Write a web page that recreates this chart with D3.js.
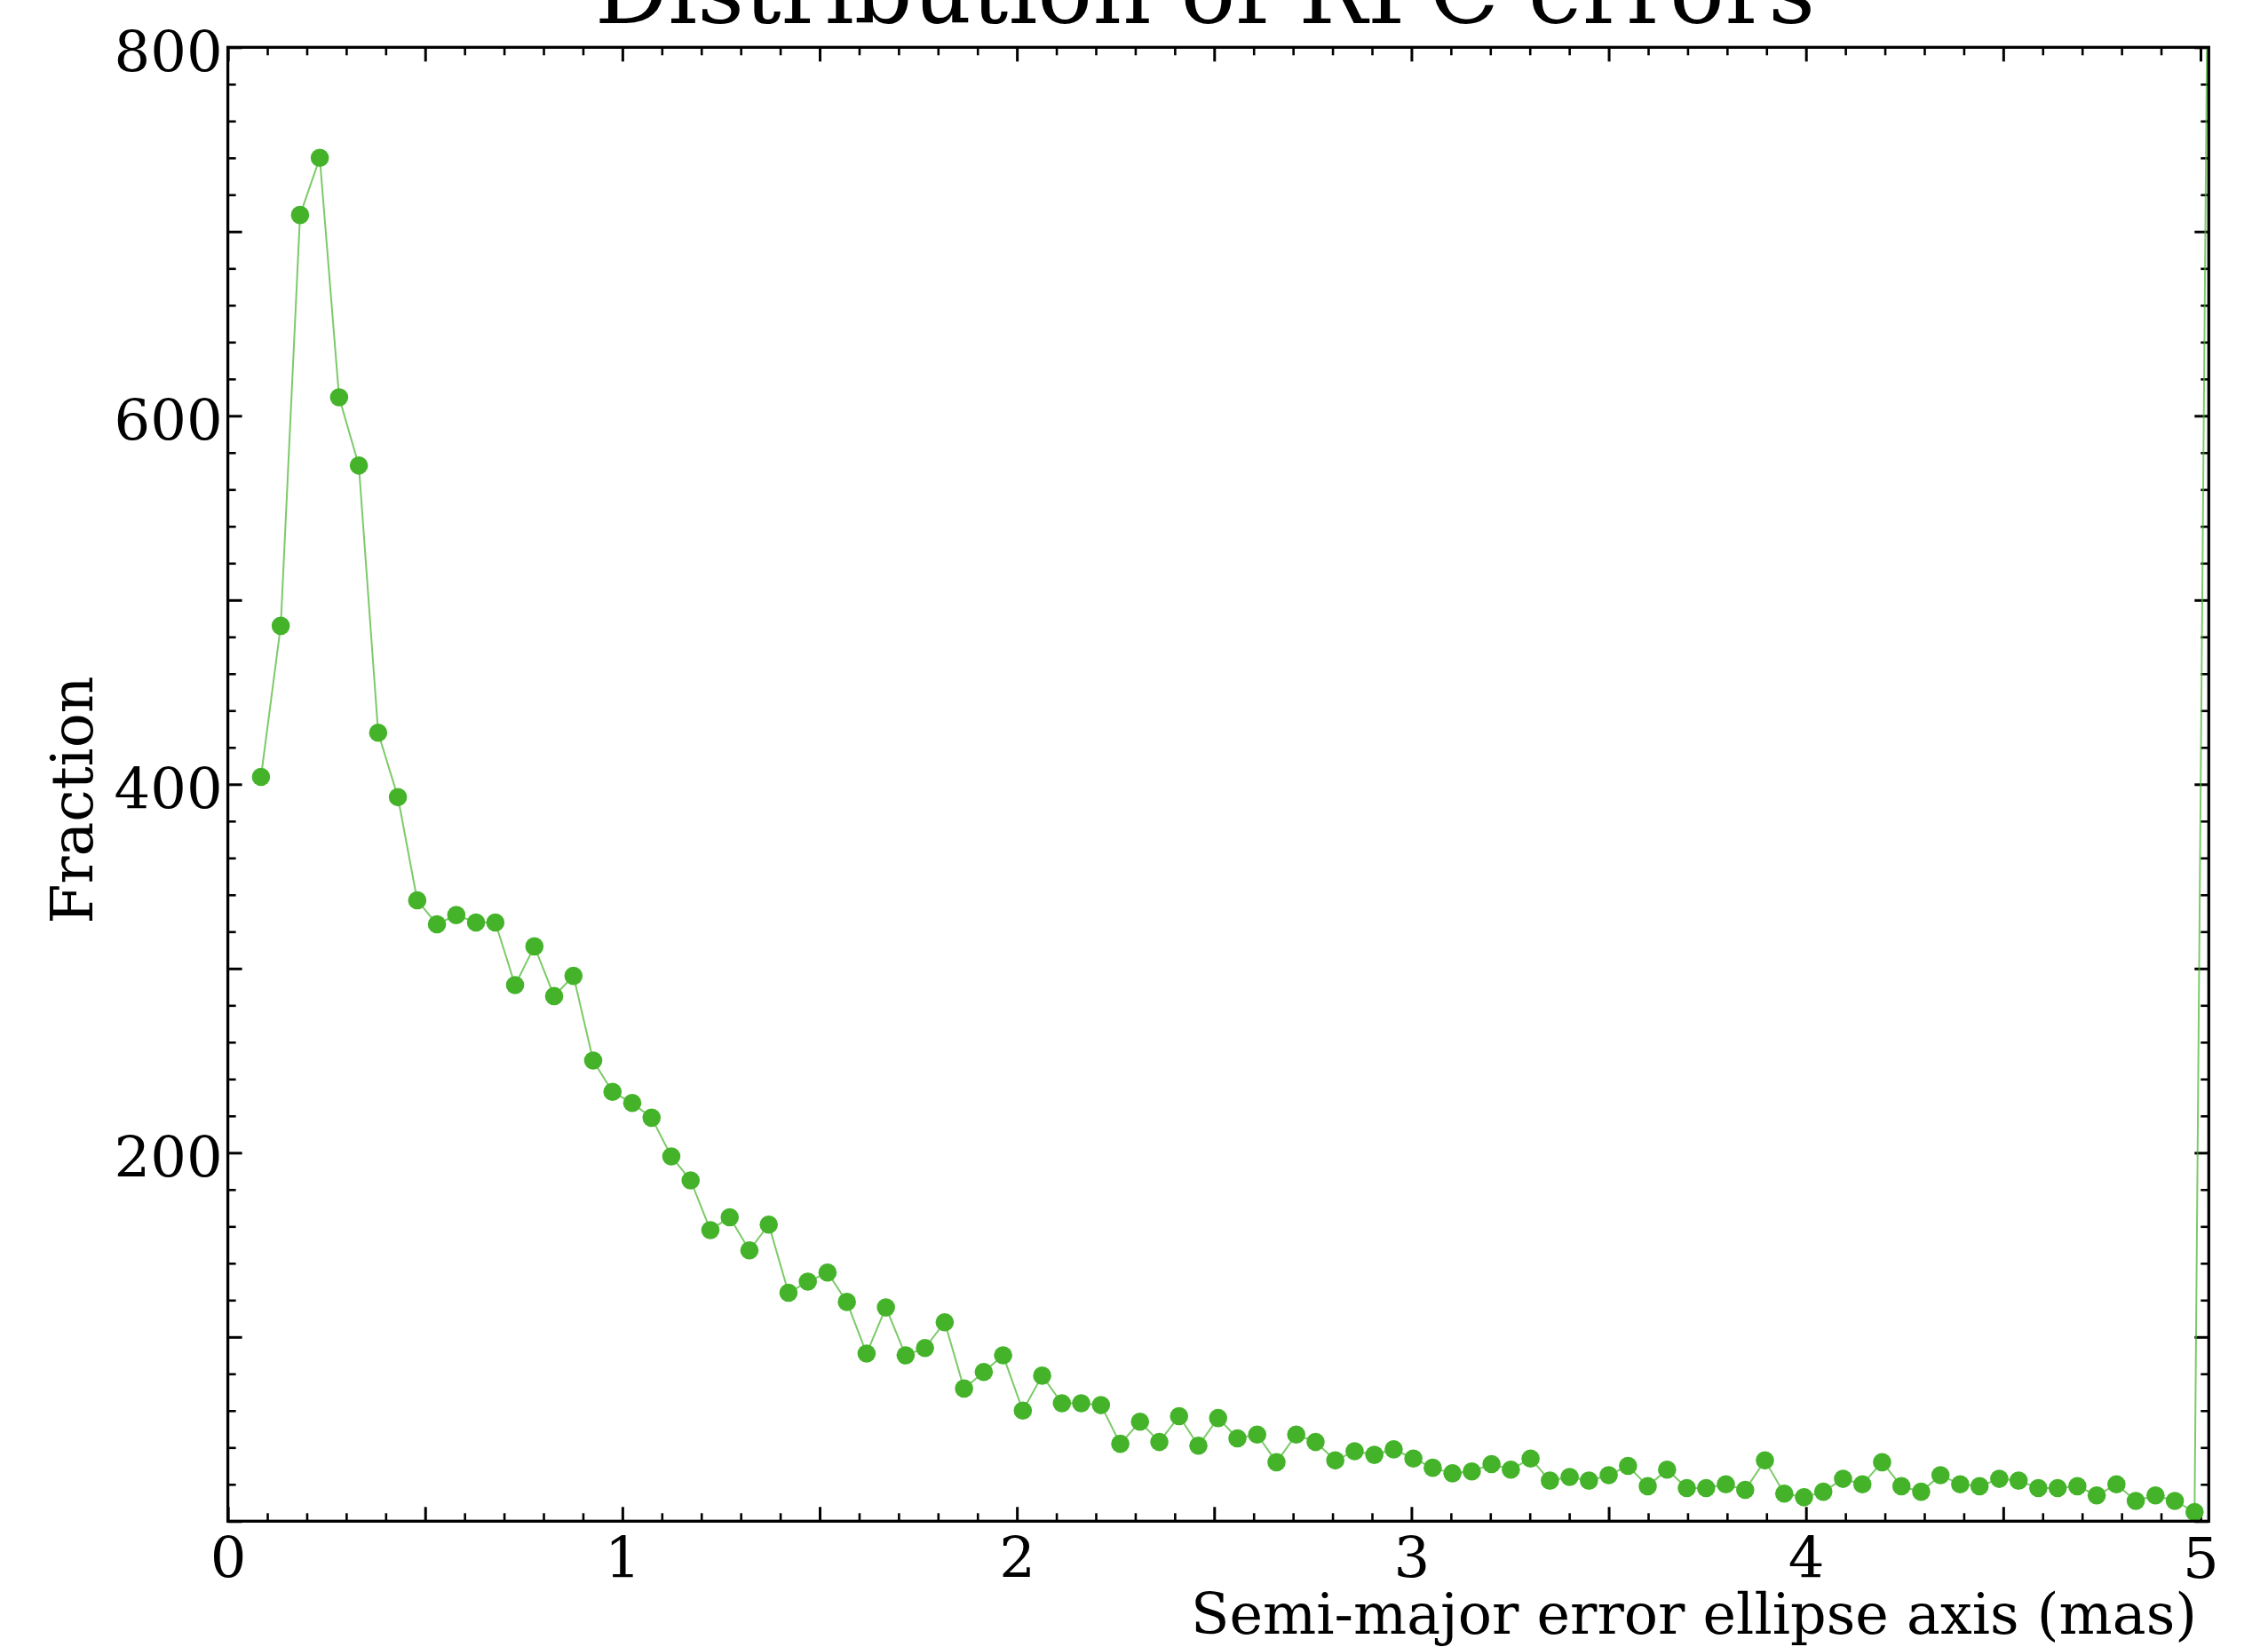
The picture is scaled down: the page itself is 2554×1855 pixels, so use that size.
<!doctype html>
<html>
<head>
<meta charset="utf-8">
<script src="https://cdnjs.cloudflare.com/ajax/libs/d3/7.8.5/d3.min.js"></script>
<style>
  body{margin:0;background:#fff;}
  text{font-family:"DejaVu Serif",serif;fill:#000;}
</style>
</head>
<body>
<svg id="chart" width="2554" height="1855"></svg>
<script>
// bin centres (mas) and counts; last bin is the overflow spike
var binCenters = [0.084,0.134,0.183,0.233,0.282,0.332,0.381,0.431,0.480,0.530,
  0.579,0.629,0.678,0.728,0.777,0.827,0.876,0.926,0.975,1.025,
  1.074,1.124,1.173,1.223,1.272,1.322,1.371,1.421,1.470,1.520,
  1.569,1.619,1.668,1.718,1.767,1.817,1.866,1.916,1.965,2.015,
  2.064,2.114,2.163,2.213,2.262,2.312,2.361,2.411,2.460,2.510,
  2.559,2.609,2.658,2.708,2.757,2.807,2.856,2.906,2.955,3.005,
  3.054,3.104,3.153,3.203,3.252,3.302,3.351,3.401,3.450,3.500,
  3.549,3.599,3.648,3.698,3.747,3.797,3.846,3.896,3.945,3.995,
  4.044,4.094,4.143,4.193,4.242,4.292,4.341,4.391,4.440,4.490,
  4.539,4.589,4.638,4.688,4.737,4.787,4.836,4.886,4.935,4.985,
  5.034];
var counts = [404,486,709,740,610,573,428,393,337,324,
  329,325,325,291,312,285,296,250,233,227,
  219,198,185,158,165,147,161,124,130,135,
  119,91,116,90,94,108,72,81,90,60,
  79,64,64,63,42,54,43,57,41,56,
  45,47,32,47,43,33,38,36,39,34,
  29,26,27,31,28,34,22,24,22,25,
  30,19,28,18,18,20,17,33,15,13,
  16,23,20,32,19,16,25,20,19,23,
  22,18,18,19,14,20,11,14,11,5,
  1250];
var xLabelTicks = [0,1,2,3,4,5];
var yLabelTicks = [200,400,600,800];
var xMajorTicks = [0,0.5,1,1.5,2,2.5,3,3.5,4,4.5,5];
var yMajorTicks = [0,100,200,300,400,500,600,700,800];

var W = 2554, H = 1855;
var margin = {top:53.3, right:66.7, bottom:141.7, left:256.6};
var iw = W - margin.left - margin.right,
    ih = H - margin.top - margin.bottom;

var svg = d3.select("#chart");
var g = svg.append("g").attr("transform","translate("+margin.left+","+margin.top+")");

var x = d3.scaleLinear().domain([0,5.021]).range([0,iw]);
var y = d3.scaleLinear().domain([0,800]).range([ih,0]);

var xMinor = d3.range(0,5.02,0.1).filter(v => Math.abs(v*2-Math.round(v*2))>1e-6);
var yMinor = d3.range(0,801,20).filter(v => v%100!==0);

g.append("clipPath").attr("id","plotclip")
  .append("rect").attr("width",iw).attr("height",ih);

// ticks on all four sides, pointing in
function tickAxis(axis, vals, len, width, tr){
  var a = g.append("g").attr("transform",tr||null)
    .call(axis.tickValues(vals).tickSize(-len).tickFormat(""));
  a.select(".domain").remove();
  a.selectAll(".tick line").attr("stroke","#000").attr("stroke-width",width);
  return a;
}
tickAxis(d3.axisBottom(x), xMinor, 9, 2.6, "translate(0,"+ih+")");
tickAxis(d3.axisBottom(x), xMajorTicks, 16, 3, "translate(0,"+ih+")");
tickAxis(d3.axisTop(x), xMinor, 9, 2.6);
tickAxis(d3.axisTop(x), xMajorTicks, 16, 3);
tickAxis(d3.axisLeft(y), yMinor, 9, 2.6);
tickAxis(d3.axisLeft(y), yMajorTicks, 16, 3);
tickAxis(d3.axisRight(y), yMinor, 9, 2.6, "translate("+iw+",0)");
tickAxis(d3.axisRight(y), yMajorTicks, 16, 3, "translate("+iw+",0)");

// tick labels
var xl = g.append("g").attr("transform","translate(0,"+ih+")")
  .call(d3.axisBottom(x).tickValues(xLabelTicks).tickSize(0).tickPadding(18).tickFormat(d3.format("d")));
xl.select(".domain").remove();
xl.selectAll("text").attr("font-size",64).attr("font-family","DejaVu Serif");

var yl = g.append("g")
  .call(d3.axisLeft(y).tickValues(yLabelTicks).tickSize(0).tickPadding(6).tickFormat(d3.format("d")));
yl.select(".domain").remove();
yl.selectAll("text").attr("font-size",64).attr("font-family","DejaVu Serif").attr("dy","0.43em");

// data
var line = d3.line().x((d,i) => x(binCenters[i])).y(d => y(d));
var plot = g.append("g").attr("clip-path","url(#plotclip)");
plot.append("path").datum(counts)
  .attr("d",line).attr("fill","none")
  .attr("stroke","#44b32a").attr("stroke-opacity",0.7).attr("stroke-width",2);
plot.selectAll("circle").data(counts).enter().append("circle")
  .attr("cx",(d,i) => x(binCenters[i])).attr("cy",d => y(d))
  .attr("r",10.3).attr("fill","#44b32a");

// frame
g.append("rect").attr("width",iw).attr("height",ih)
  .attr("fill","none").attr("stroke","#000").attr("stroke-width",3.3);

// labels
svg.append("text").attr("x",1357).attr("y",26).attr("text-anchor","middle")
  .attr("font-size",103).text("Distribution of RPC errors");
svg.append("text").attr("x",2474).attr("y",1840).attr("text-anchor","end")
  .attr("font-size",63.5).text("Semi-major error ellipse axis (mas)");
svg.append("text").attr("transform","translate(104,901) rotate(-90)")
  .attr("text-anchor","middle").attr("font-size",65).text("Fraction");
</script>
</body>
</html>
